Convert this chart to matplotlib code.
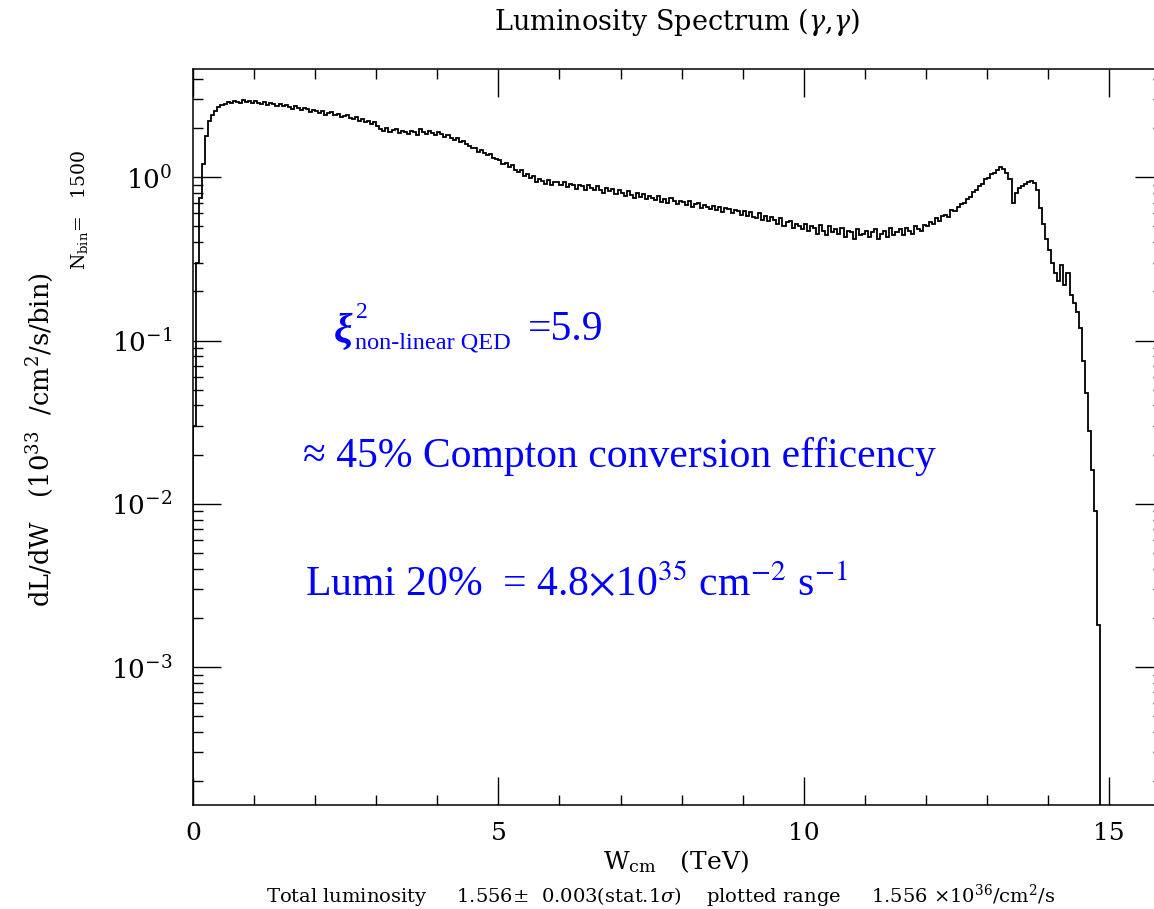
import numpy as np
import matplotlib
matplotlib.use("Agg")
import matplotlib.pyplot as plt
from matplotlib.ticker import (LogLocator, MultipleLocator, FixedLocator,
                               LogFormatterMathtext, NullFormatter)

# dL/dW per 0.05 TeV bin, starting at W = 0 (units of 1e33 /cm^2/s/bin)
bin_width = 0.05
lumi_per_bin = (
    [0.03, 0.3, 0.75, 1.2, 1.8, 2.2, 2.4, 2.55, 2.68, 2.75]          # 0.0 - 0.5
    + [2.8, 2.9, 2.86, 2.95, 2.88, 2.84, 2.97, 2.9, 2.93, 2.86]      # 0.5 - 1.0
    + [2.91, 2.85, 2.82, 2.9, 2.78, 2.84, 2.8, 2.72, 2.79, 2.74]     # 1.0 - 1.5
    + [2.76, 2.68, 2.63, 2.72, 2.66, 2.57, 2.64, 2.6, 2.51, 2.58]    # 1.5 - 2.0
    + [2.56, 2.48, 2.53, 2.42, 2.47, 2.5, 2.39, 2.44, 2.34, 2.38]    # 2.0 - 2.5
    + [2.4, 2.31, 2.26, 2.35, 2.22, 2.28, 2.18, 2.21, 2.13, 2.17]    # 2.5 - 3.0
    + [2.07, 1.98, 1.93, 2.01, 1.88, 1.95, 1.97, 1.86, 1.91, 1.9]    # 3.0 - 3.5
    + [1.85, 1.93, 1.88, 1.82, 1.96, 1.89, 1.84, 1.92, 1.86, 1.81]   # 3.5 - 4.0
    + [1.9, 1.85, 1.77, 1.82, 1.74, 1.69, 1.75, 1.64, 1.66, 1.6]     # 4.0 - 4.5
    + [1.56, 1.5, 1.52, 1.43, 1.46, 1.4, 1.36, 1.39, 1.31, 1.29]     # 4.5 - 5.0
    + [1.27, 1.2, 1.23, 1.15, 1.18, 1.11, 1.07, 1.1, 1.02, 1.05]     # 5.0 - 5.5
    + [0.99, 1.02, 0.94, 0.97, 0.95, 0.91, 0.96, 0.9, 0.93, 0.94]    # 5.5 - 6.0
    + [0.9, 0.93, 0.87, 0.91, 0.89, 0.85, 0.9, 0.88, 0.84, 0.89]     # 6.0 - 6.5
    + [0.86, 0.83, 0.88, 0.84, 0.8, 0.86, 0.82, 0.85, 0.79, 0.83]    # 6.5 - 7.0
    + [0.8, 0.77, 0.82, 0.78, 0.75, 0.8, 0.76, 0.79, 0.74, 0.77]     # 7.0 - 7.5
    + [0.75, 0.73, 0.77, 0.71, 0.74, 0.7, 0.75, 0.72, 0.69, 0.72]    # 7.5 - 8.0
    + [0.71, 0.68, 0.72, 0.66, 0.69, 0.7, 0.65, 0.68, 0.66, 0.64]    # 8.0 - 8.5
    + [0.67, 0.63, 0.66, 0.61, 0.65, 0.64, 0.6, 0.63, 0.62, 0.59]    # 8.5 - 9.0
    + [0.62, 0.58, 0.61, 0.57, 0.56, 0.6, 0.55, 0.58, 0.54, 0.57]    # 9.0 - 9.5
    + [0.55, 0.52, 0.56, 0.5, 0.53, 0.54, 0.49, 0.52, 0.5, 0.48]     # 9.5 - 10.0
    + [0.52, 0.47, 0.5, 0.49, 0.45, 0.51, 0.47, 0.44, 0.5, 0.46]     # 10.0 - 10.5
    + [0.48, 0.45, 0.49, 0.43, 0.47, 0.46, 0.42, 0.48, 0.44, 0.45]   # 10.5 - 11.0
    + [0.47, 0.43, 0.46, 0.48, 0.42, 0.45, 0.47, 0.43, 0.49, 0.44]   # 11.0 - 11.5
    + [0.46, 0.48, 0.44, 0.49, 0.47, 0.45, 0.5, 0.48, 0.47, 0.51]    # 11.5 - 12.0
    + [0.5, 0.53, 0.52, 0.56, 0.54, 0.58, 0.59, 0.57, 0.63, 0.62]    # 12.0 - 12.5
    + [0.66, 0.69, 0.7, 0.74, 0.76, 0.81, 0.83, 0.88, 0.91, 0.97]    # 12.5 - 13.0
    + [0.99, 1.05, 1.06, 1.11, 1.16, 1.12, 1.06, 0.98, 0.7, 0.8]     # 13.0 - 13.5
    + [0.86, 0.88, 0.91, 0.93, 0.95, 0.92, 0.84, 0.65, 0.52, 0.42]   # 13.5 - 14.0
    + [0.36, 0.3, 0.26, 0.23, 0.29, 0.22, 0.26, 0.19, 0.17, 0.15]    # 14.0 - 14.5
    + [0.12, 0.075, 0.048, 0.028, 0.016, 0.009, 0.0018, 0.0]         # 14.5 - 14.9
)

yticks_major = [1e-3, 1e-2, 1e-1, 1e0]
xticks_major = [0, 5, 10, 15]

blue = "#0000ff"
W, H = 1154, 909

plt.rcParams["mathtext.fontset"] = "dejavuserif"
plt.rcParams["font.family"] = ["DejaVu Serif"]

fig = plt.figure(figsize=(W / 100, H / 100), dpi=100)
ax = fig.add_axes([193 / W, 1 - 805 / H, 970 / W, 736 / H])

vals = np.array(lumi_per_bin)
edges = np.arange(len(vals) + 1) * bin_width
ax.stairs(vals, edges, color="black", lw=1.3)

ax.set_yscale("log", nonpositive="clip")
ax.set_xlim(0, 15.88)
ax.set_ylim(1.43e-4, 4.6)

ax.xaxis.set_major_locator(FixedLocator(xticks_major))
ax.xaxis.set_minor_locator(MultipleLocator(1))
ax.yaxis.set_major_locator(FixedLocator(yticks_major))
ax.yaxis.set_minor_locator(LogLocator(base=10, subs=np.arange(2, 10)))
ax.yaxis.set_minor_formatter(NullFormatter())
ax.yaxis.set_major_formatter(LogFormatterMathtext())

ax.tick_params(which="both", direction="in", top=True, right=True,
               color="black", width=1.0)
ax.tick_params(which="major", length=20)
ax.tick_params(which="minor", length=7)
ax.tick_params(axis="x", which="major", labelsize=18, pad=12)
ax.tick_params(axis="y", which="major", labelsize=19, pad=15)
for s in ax.spines.values():
    s.set_linewidth(1.1)

# titles and axis annotations
fig.text(677 / W, 1 - 22 / H, r"Luminosity Spectrum ($\gamma$,$\gamma$)",
         ha="center", va="center", fontsize=19.5)
fig.text(40 / W, 1 - 440 / H, r"dL/dW   (10$^{33}$  /cm$^2$/s/bin)",
         rotation=90, ha="center", va="center", fontsize=18.5)
fig.text(79 / W, 1 - 210 / H, r"N$_{\rm bin}$=   1500",
         rotation=90, ha="center", va="center", fontsize=13.5)
fig.text(676 / W, 1 - 862 / H, r"W$_{\rm cm}$   (TeV)",
         ha="center", va="center", fontsize=18)
fig.text(661 / W, 1 - 896 / H,
         r"Total luminosity     1.556$\pm$  0.003(stat.1$\sigma$)    plotted range     1.556 $\times$10$^{36}$/cm$^2$/s",
         ha="center", va="center", fontsize=14)

# blue in-plot annotations
serif = ["Liberation Serif", "DejaVu Serif"]
fig.text(334 / W, 1 - 343 / H, "\u03be", color=blue, fontsize=30,
         family=serif, weight="bold", style="italic", ha="left", va="baseline")
fig.text(356 / W, 1 - 318 / H, "2", color=blue, fontsize=17,
         family=serif, ha="left", va="baseline")
fig.text(355 / W, 1 - 348 / H, "non-linear QED", color=blue, fontsize=17.5,
         family=serif, ha="left", va="baseline")
fig.text(528 / W, 1 - 340 / H, "=5.9", color=blue, fontsize=30,
         family=serif, ha="left", va="baseline")
fig.text(303 / W, 1 - 467 / H, "\u2248 45% Compton conversion efficency",
         color=blue, fontsize=30, family=serif, ha="left", va="baseline")
fig.text(305 / W, 1 - 595 / H,
         r"Lumi 20%  = 4.8$\times$10$^{35}$ cm$^{-2}$ s$^{-1}$",
         color=blue, fontsize=30, family=serif, math_fontfamily="stix",
         ha="left", va="baseline")

fig.savefig("out.png", dpi=100)
